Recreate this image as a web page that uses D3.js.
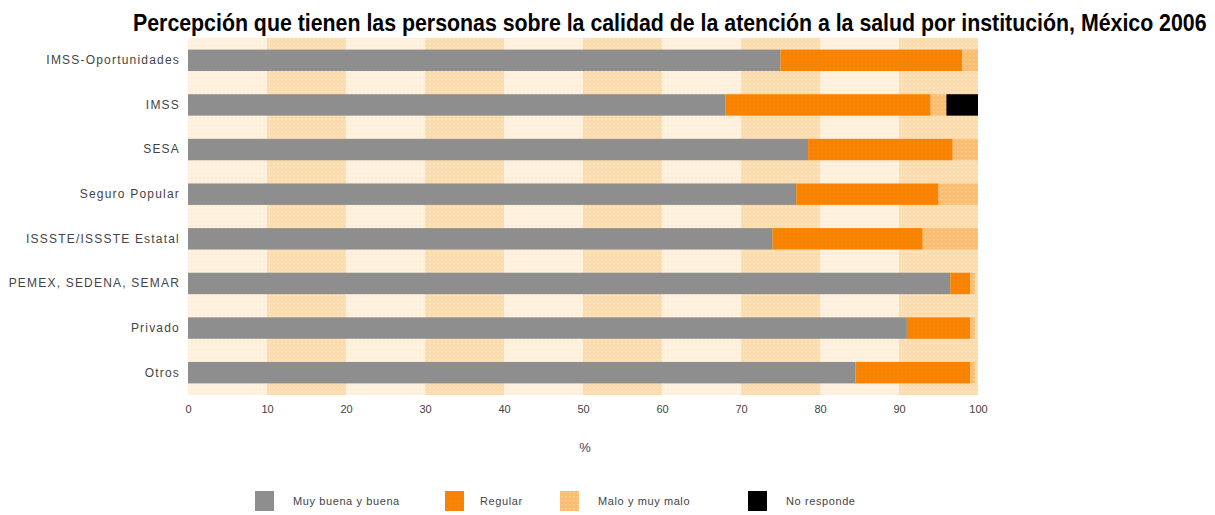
<!DOCTYPE html>
<html>
<head>
<meta charset="utf-8">
<script src="https://cdn.jsdelivr.net/npm/d3@7"></script>
<style>
  body { margin:0; background:#fff; }
  svg { display:block; }
</style>
</head>
<body>
<div id="chart"></div>
<script>
const categories = ["IMSS-Oportunidades","IMSS","SESA","Seguro Popular","ISSSTE/ISSSTE Estatal","PEMEX, SEDENA, SEMAR","Privado","Otros"]
const seriesNames = ["Muy buena y buena","Regular","Malo y muy malo","No responde"]
const muyBuena  = [75, 68, 78.5, 77, 74, 96.5, 91, 84.5]
const regular   = [23, 26, 18.3, 18, 19, 2.5, 8, 14.5]
const malo      = [2, 2, 3.2, 5, 7, 0.6, 0.6, 0.6]
const noResp    = [0, 4, 0, 0, 0, 0, 0, 0]
const xTicks = [0,10,20,30,40,50,60,70,80,90,100]
const title = "Percepción que tienen las personas sobre la calidad de la atención a la salud por institución, México 2006"

function render(){
  let width = 1215, height = 515,
      margin = { top:38, left:188, right:237, bottom:120 },
      innerWidth = width - margin.left - margin.right,
      innerHeight = height - margin.top - margin.bottom

  const colors = ["#8e8e8e","#f98200","#fbbd72","#000000"]
  const font = "'Liberation Sans',Arial,sans-serif"

  let table = categories.map((c,i)=>({cat:c, [seriesNames[0]]:muyBuena[i], [seriesNames[1]]:regular[i], [seriesNames[2]]:malo[i], [seriesNames[3]]:noResp[i]}))
  let stacked = d3.stack().keys(seriesNames)(table)

  let xScale = d3.scaleLinear().domain([0,100]).range([0,innerWidth])
  let yScale = d3.scaleBand().domain(categories).range([0,innerHeight]).paddingInner(0.52).paddingOuter(0.26)

  let svg = d3.select("#chart").append("svg").attr("width",width).attr("height",height)
  let defs = svg.append("defs")
  function dots(id, base, dot){
    let p = defs.append("pattern").attr("id",id).attr("width",4).attr("height",4).attr("patternUnits","userSpaceOnUse")
    p.append("rect").attr("width",4).attr("height",4).attr("fill",base)
    p.append("rect").attr("x",1).attr("y",1).attr("width",1.5).attr("height",1.5).attr("fill",dot)
    return `url(#${id})`
  }
  const bgLight = dots("bgL","#fdefd9","#fffbf4")
  const bgDark = dots("bgD","#fbdcae","#fdebcf")
  const segFills = [colors[0], dots("pO","#f98200","#f08a1c"), dots("pM","#fbbd72","#fcd29e"), colors[3]]

  // title: condensed bold, squeezed to the width it has in the picture
  let t = svg.append("text").attr("x",0).attr("y",0)
    .style("font-family",font).style("font-weight","bold").style("font-size","23px").attr("fill","#000").text(title)
  let tl = t.node().getComputedTextLength()
  t.attr("transform",`translate(133,31) scale(${1074/tl},1)`)

  let g = svg.append("g").attr("transform",`translate(${margin.left},${margin.top})`)

  // background columns
  g.selectAll("rect.bg").data(xTicks.slice(0,-1)).enter().append("rect").attr("class","bg")
    .attr("x",d=>xScale(d)).attr("y",0)
    .attr("width",d=>xScale(d+10)-xScale(d)).attr("height",innerHeight)
    .attr("fill",(d,i)=> i%2 ? bgDark : bgLight)

  g.selectAll("g.series").data(stacked).enter().append("g").attr("class","series")
    .attr("fill",(d,i)=>segFills[i])
    .selectAll("rect").data(d=>d).enter().append("rect")
    .attr("x",d=>xScale(d[0])).attr("y",d=>yScale(d.data.cat))
    .attr("width",d=>xScale(d[1])-xScale(d[0])).attr("height",yScale.bandwidth())

  let yAxis = d3.axisLeft(yScale).tickSize(0).tickPadding(8)
  let ya = g.append("g").call(yAxis)
  ya.select(".domain").remove()
  ya.selectAll("text").style("font-family",font).style("font-size","12px").style("letter-spacing","1.2px").attr("fill","#444")

  let xAxis = d3.axisBottom(xScale).tickValues(xTicks).tickSize(0).tickPadding(10)
  let xa = g.append("g").attr("transform",`translate(0,${innerHeight})`).call(xAxis)
  xa.select(".domain").remove()
  xa.selectAll("text").style("font-family",font).style("font-size","11px").attr("fill","#444")

  g.append("text").attr("x",xScale(50)+2).attr("y",innerHeight+57).attr("text-anchor","middle")
    .style("font-family",font).style("font-size","13px").attr("fill","#444").text("%")

  // legend
  const legX = [255, 445, 560, 748]
  let leg = svg.append("g").attr("transform","translate(0,491)")
  let li = leg.selectAll("g").data(seriesNames).enter().append("g").attr("transform",(d,i)=>`translate(${legX[i]},0)`)
  li.append("rect").attr("width",19).attr("height",20).attr("fill",(d,i)=>segFills[i])
  li.append("text").attr("x",(d,i)=> i==1 ? 35 : 38).attr("y",14)
    .style("font-family",font).style("font-size","11px").style("letter-spacing","0.6px").attr("fill","#444").text(d=>d)
}
render()
</script>
</body>
</html>
